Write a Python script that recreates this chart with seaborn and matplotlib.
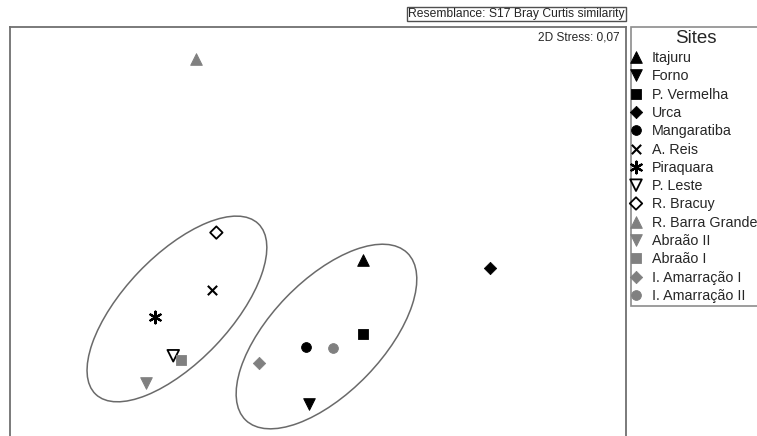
import matplotlib
matplotlib.use("Agg")
import matplotlib.pyplot as plt
from matplotlib.patches import Ellipse
import seaborn as sns

# nMDS coordinates of the sites
sites = ["Itajuru", "Forno", "P. Vermelha", "Urca", "Mangaratiba", "A. Reis",
         "Piraquara", "P. Leste", "R. Bracuy", "R. Barra Grande", "Abraão II",
         "Abraão I", "I. Amarração I", "I. Amarração II"]
mds1 = [0.29, -0.06, 0.29, 1.12, -0.08, -0.69, -1.06, -0.94, -0.66, -0.79,
        -1.12, -0.89, -0.38, 0.10]
mds2 = [-0.19, -1.12, -0.67, -0.24, -0.75, -0.38, -0.56, -0.81, -0.01, 1.12,
        -0.99, -0.84, -0.86, -0.76]

# similarity groups drawn as ellipses: centre, width, height, angle
group_x = [-0.916, 0.055]
group_y = [-0.506, -0.685]
group_w = [1.53, 1.51]
group_h = [0.69, 0.73]
group_angle = [46.4, 46.0]

stress_label = "2D Stress: 0,07"
resemblance_label = "Resemblance: S17 Bray Curtis similarity"

black = "black"
grey = "#808080"
asterisk = (6, 2, 0)
site_style = {
    "Itajuru": dict(marker="^", color=black, s=70),
    "Forno": dict(marker="v", color=black, s=70),
    "P. Vermelha": dict(marker="s", color=black, s=55),
    "Urca": dict(marker="D", color=black, s=40),
    "Mangaratiba": dict(marker="o", color=black, s=50),
    "A. Reis": dict(marker="x", color=black, s=45, linewidth=1.5),
    "Piraquara": dict(marker=asterisk, color=black, s=70, linewidth=1.6),
    "P. Leste": dict(marker="v", color=black, s=70, facecolor="none", linewidth=1.3),
    "R. Bracuy": dict(marker="D", color=black, s=40, facecolor="none", linewidth=1.3),
    "R. Barra Grande": dict(marker="^", color=grey, s=70),
    "Abraão II": dict(marker="v", color=grey, s=70),
    "Abraão I": dict(marker="s", color=grey, s=55),
    "I. Amarração I": dict(marker="D", color=grey, s=40),
    "I. Amarração II": dict(marker="o", color=grey, s=50),
}

sns.set_style("white")
plt.rcParams["font.family"] = ["Liberation Sans", "DejaVu Sans"]

W, H = 757, 436
fig = plt.figure(figsize=(W / 100, H / 100), dpi=100)
ax = fig.add_axes([10 / W, 0, 616 / W, 409 / H])

for i, site in enumerate(sites):
    st = dict(site_style[site])
    fc = st.pop("facecolor", st["color"])
    sns.scatterplot(x=[mds1[i]], y=[mds2[i]], ax=ax, label=site, legend=False,
                    edgecolor=st["color"], facecolor=fc, zorder=3, **st)

for cx, cy, w, h, a in zip(group_x, group_y, group_w, group_h, group_angle):
    ax.add_patch(Ellipse((cx, cy), w, h, angle=a, fill=False,
                         edgecolor="#6a6a6a", linewidth=1.1, zorder=2))

ax.set_xlim(-2.0, 2.0)
ax.set_ylim(-1.331, 1.325)
ax.set_xticks([])
ax.set_yticks([])
ax.set_xlabel("")
ax.set_ylabel("")
ax.spines["bottom"].set_visible(False)
for side in ["left", "right", "top"]:
    ax.spines[side].set_color("#707070")
    ax.spines[side].set_linewidth(1.3)

ax.text(1 - 6 / 616, 1 - 11 / 409, stress_label, transform=ax.transAxes,
        ha="right", va="center", fontsize=8.6)

fig.text(625 / W, 1 - 14 / H, resemblance_label, ha="right", va="center",
         fontsize=8.7,
         bbox=dict(boxstyle="square,pad=0.12", fc="white", ec="#505050", lw=1))

handles, labels = ax.get_legend_handles_labels()
leg = fig.legend(handles, labels, loc="upper left",
                 bbox_to_anchor=(631 / W, 1 - 27 / H), title="Sites",
                 frameon=True, fancybox=False, edgecolor="#707070",
                 fontsize=10.3, title_fontsize=13.5, handlelength=0.3,
                 handletextpad=0.95, labelspacing=0.3, borderpad=0.2,
                 borderaxespad=0, scatterpoints=1, scatteryoffsets=[0.5])
leg.get_frame().set_linewidth(1.2)

fig.savefig("out.png", dpi=100)
